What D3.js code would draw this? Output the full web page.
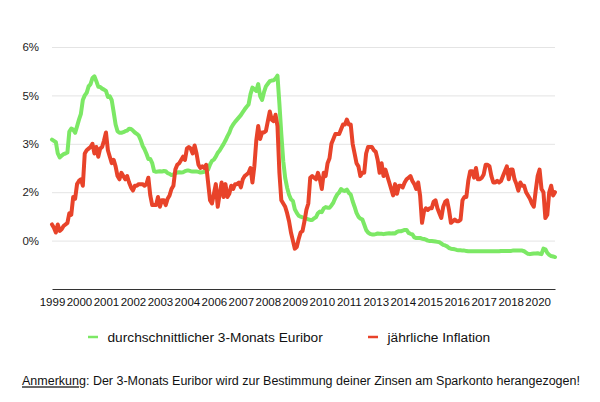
<!DOCTYPE html>
<html lang="de">
<head>
<meta charset="UTF-8">
<title>Euribor und Inflation</title>
<script src="https://d3js.org/d3.v7.min.js"></script>
<style>
    body { margin: 0; background: #fff; font-family: "Liberation Sans", Arial, sans-serif; }
    .grid line { stroke: #e4e4e4; stroke-width: 1px; }
    .grid .domain { display: none; }
    .series { fill: none; stroke-width: 4px; stroke-linejoin: round; stroke-linecap: round; }
</style>
</head>
<body>
<svg id="chart" width="600" height="402"></svg>
<script>
// monthly values, Jan 1999 .. Oct 2020
const euribor = [
    3.13, 3.09, 3.05, 2.70, 2.58, 2.63, 2.68, 2.70, 2.73, 3.38, 3.47, 3.44,   // 1999
    3.34, 3.54, 3.75, 3.93, 4.36, 4.50, 4.58, 4.78, 4.85, 5.04, 5.09, 4.94,   // 2000
    4.77, 4.76, 4.71, 4.68, 4.64, 4.45, 4.47, 4.35, 3.98, 3.60, 3.39, 3.34,   // 2001
    3.34, 3.36, 3.39, 3.41, 3.47, 3.46, 3.41, 3.35, 3.31, 3.26, 3.12, 2.94,   // 2002
    2.83, 2.69, 2.53, 2.53, 2.40, 2.15, 2.13, 2.14, 2.15, 2.14, 2.16, 2.15,   // 2003
    2.09, 2.07, 2.03, 2.05, 2.09, 2.11, 2.12, 2.11, 2.12, 2.15, 2.17, 2.17,   // 2004
    2.15, 2.14, 2.14, 2.14, 2.13, 2.11, 2.12, 2.13, 2.14, 2.20, 2.36, 2.47,   // 2005
    2.51, 2.60, 2.72, 2.79, 2.89, 2.99, 3.10, 3.23, 3.34, 3.50, 3.60, 3.68,   // 2006
    3.75, 3.82, 3.89, 3.98, 4.07, 4.15, 4.22, 4.54, 4.74, 4.69, 4.64, 4.85,   // 2007
    4.48, 4.36, 4.60, 4.78, 4.86, 4.94, 4.96, 4.97, 5.02, 5.11, 4.24, 3.29,   // 2008
    2.46, 1.94, 1.64, 1.42, 1.28, 1.23, 0.97, 0.86, 0.77, 0.74, 0.72, 0.71,   // 2009
    0.68, 0.66, 0.64, 0.64, 0.69, 0.73, 0.85, 0.90, 0.88, 1.00, 1.04, 1.02,   // 2010
    1.02, 1.09, 1.18, 1.32, 1.43, 1.49, 1.60, 1.55, 1.54, 1.58, 1.48, 1.43,   // 2011
    1.22, 1.05, 0.86, 0.74, 0.68, 0.66, 0.50, 0.33, 0.25, 0.21, 0.19, 0.19,   // 2012
    0.20, 0.22, 0.21, 0.21, 0.20, 0.21, 0.22, 0.23, 0.22, 0.23, 0.22, 0.27,   // 2013
    0.29, 0.29, 0.31, 0.33, 0.33, 0.24, 0.21, 0.19, 0.10, 0.08, 0.08, 0.08,   // 2014
    0.06, 0.05, 0.03, 0.00, -0.01, -0.01, -0.02, -0.03, -0.04, -0.05, -0.09, -0.13, // 2015
    -0.15, -0.18, -0.23, -0.25, -0.26, -0.27, -0.29, -0.30, -0.30, -0.31, -0.31, -0.32, // 2016
    -0.33, -0.33, -0.33, -0.33, -0.33, -0.33, -0.33, -0.33, -0.33, -0.33, -0.33, -0.33, // 2017
    -0.33, -0.33, -0.33, -0.33, -0.33, -0.32, -0.32, -0.32, -0.32, -0.32, -0.32, -0.31, // 2018
    -0.31, -0.31, -0.31, -0.31, -0.31, -0.33, -0.37, -0.41, -0.42, -0.41, -0.40, -0.40, // 2019
    -0.39, -0.41, -0.42, -0.25, -0.27, -0.38, -0.44, -0.48, -0.49, -0.51              // 2020
];

const inflation = [
    0.50, 0.40, 0.25, 0.50, 0.30, 0.35, 0.45, 0.50, 0.55, 0.85, 0.80, 1.35,   // 1999
    1.30, 1.75, 1.85, 1.90, 1.70, 2.70, 2.80, 2.85, 2.90, 3.00, 2.70, 2.90,   // 2000
    2.60, 2.85, 2.90, 3.10, 3.35, 2.80, 2.60, 2.40, 2.50, 2.30, 2.00, 1.90,   // 2001
    2.10, 2.00, 1.90, 2.00, 1.80, 1.65, 1.55, 1.70, 1.70, 1.75, 1.75, 1.75,   // 2002
    1.70, 1.75, 1.95, 1.40, 1.10, 1.10, 1.10, 1.35, 1.05, 1.25, 1.25, 1.10,   // 2003
    1.30, 1.40, 1.60, 1.70, 2.20, 2.35, 2.40, 2.50, 2.60, 2.50, 2.85, 2.90,   // 2004
    2.85, 2.70, 2.95, 2.70, 2.35, 2.25, 2.30, 2.25, 2.35, 1.80, 1.25, 1.15,   // 2005
    1.45, 1.75, 1.05, 1.45, 1.80, 1.35, 1.75, 1.35, 1.45, 1.70, 1.60, 1.75,   // 2006
    1.75, 1.80, 1.65, 1.90, 2.00, 2.05, 2.10, 2.25, 1.80, 2.30, 3.10, 3.55,   // 2007
    3.15, 3.35, 3.35, 3.40, 3.70, 4.00, 3.75, 3.70, 3.90, 3.55, 2.10, 1.25,   // 2008
    1.15, 1.05, 0.85, 0.60, 0.25, 0.00, -0.25, -0.20, 0.05, 0.25, 0.30, 0.60, // 2009
    0.95, 1.15, 1.95, 2.00, 1.95, 1.90, 2.10, 1.90, 1.60, 2.10, 2.00, 2.40,   // 2010
    2.55, 3.00, 3.15, 3.30, 3.30, 3.30, 3.45, 3.60, 3.60, 3.75, 3.60, 3.60,   // 2011
    3.00, 2.70, 2.40, 2.30, 2.00, 2.10, 2.10, 2.70, 2.90, 2.90, 2.90, 2.80,   // 2012
    2.75, 2.50, 2.10, 2.40, 2.00, 2.20, 2.00, 1.80, 1.60, 1.40, 1.75, 1.45,   // 2013
    1.70, 1.70, 1.65, 1.80, 1.90, 1.95, 2.00, 1.85, 1.75, 1.60, 1.80, 1.40,   // 2014
    0.55, 0.90, 1.00, 0.95, 1.00, 1.00, 1.20, 1.25, 1.00, 0.85, 0.70, 1.05,   // 2015
    1.20, 1.25, 0.95, 0.55, 0.60, 0.65, 0.60, 0.60, 0.65, 1.25, 1.35, 1.35,   // 2016
    1.85, 2.15, 2.15, 1.95, 2.25, 1.90, 1.90, 1.95, 2.05, 2.35, 2.35, 2.30,   // 2017
    2.00, 1.80, 1.80, 1.85, 1.80, 1.85, 2.00, 2.15, 2.30, 1.90, 2.20, 2.20,   // 2018
    1.90, 1.75, 1.55, 1.80, 1.70, 1.70, 1.50, 1.40, 1.30, 1.15, 1.05, 1.55,   // 2019
    2.00, 2.20, 1.60, 1.50, 0.70, 0.80, 1.50, 1.70, 1.40, 1.50                // 2020
];

// month of each x label (every 14 months)
const xTickMonths = ["1999-01", "2000-03", "2001-05", "2002-07", "2003-09", "2004-11", "2006-01",
    "2007-03", "2008-05", "2009-07", "2010-09", "2011-11", "2013-01", "2014-03", "2015-05",
    "2016-07", "2017-09", "2018-11", "2020-01"];

const yTicks = [0, 1.5, 3, 4.5, 6];
const yTickLabels = ["0%", "2%", "3%", "5%", "6%"];

const seriesNames = ["durchschnittlicher 3-Monats Euribor", "jährliche Inflation"];
const seriesColors = ["#7ce865", "#e8432a"];

const svg = d3.select("#chart");

// plot area
const plot = { left: 52, right: 555, top: 47, bottom: 289 };

const monthIndex = s => (+s.slice(0, 4) - 1999) * 12 + (+s.slice(5, 7) - 1);

const x = d3.scaleLinear()
    .domain([0, euribor.length - 1])
    .range([plot.left, plot.right]);

const y = d3.scaleLinear()
    .domain([-1.5, 6])
    .range([plot.bottom, plot.top]);

// horizontal grid + y labels
const yAxis = svg.append("g")
    .attr("class", "grid")
    .attr("transform", `translate(${plot.left},0)`)
    .call(d3.axisLeft(y)
        .tickValues(yTicks)
        .tickSize(-(plot.right - plot.left))
        .tickPadding(13)
        .tickFormat((d, i) => yTickLabels[i]));
yAxis.selectAll("text")
    .attr("fill", "#222")
    .style("font-size", "11.5px")
    .style("font-family", "'Liberation Sans', Arial, sans-serif");

// x axis
const xAxis = svg.append("g")
    .attr("transform", `translate(0,${plot.bottom})`)
    .call(d3.axisBottom(x)
        .tickValues(xTickMonths.map(monthIndex))
        .tickSize(0)
        .tickPadding(9)
        .tickFormat((d, i) => xTickMonths[i].slice(0, 4)));
xAxis.select(".domain").attr("stroke", "#333").attr("stroke-width", 1.2);
xAxis.selectAll("text")
    .attr("fill", "#111")
    .style("font-size", "11.5px")
    .style("font-family", "'Liberation Sans', Arial, sans-serif");

// lines
const line = d3.line()
    .x((d, i) => x(i))
    .y(d => y(d));

[euribor, inflation].forEach((values, k) => {
    svg.append("path")
        .datum(values)
        .attr("class", "series")
        .attr("stroke", seriesColors[k])
        .attr("d", line);
});

// legend
const legendX = [88, 368];
seriesNames.forEach((name, k) => {
    const g = svg.append("g").attr("transform", `translate(${legendX[k]},337)`);
    g.append("line")
        .attr("x1", 0).attr("x2", 10)
        .attr("stroke", seriesColors[k])
        .attr("stroke-width", 2.5);
    g.append("text")
        .attr("x", 19.5)
        .attr("dy", "0.35em")
        .attr("fill", "#111")
        .style("font-size", "13.7px")
        .text(name);
});

// note below the chart
const note = svg.append("text")
    .attr("x", 22)
    .attr("y", 381)
    .attr("dy", "0.35em")
    .attr("fill", "#111")
    .style("font-size", "12.5px");
note.append("tspan")
    .style("text-decoration", "underline")
    .text("Anmerkung");
note.append("tspan")
    .text(": Der 3-Monats Euribor wird zur Bestimmung deiner Zinsen am Sparkonto herangezogen!");
</script>
</body>
</html>
